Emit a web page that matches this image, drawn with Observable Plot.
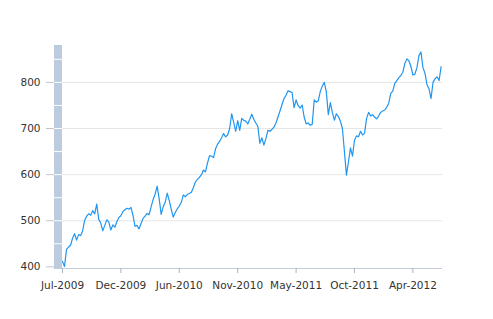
<!DOCTYPE html>
<html><head><meta charset="utf-8">
<script src="https://cdn.jsdelivr.net/npm/d3@7"></script>
<script src="https://cdn.jsdelivr.net/npm/@observablehq/plot@0.6"></script>
<style>body{margin:0;background:#fff}</style>
</head><body><div id="chart"></div>
<script>
// Sampled values (evenly spaced trading-day steps), Jul-2009 .. Jul-2012
const values = [
412,401,438,443,447,462,472,458,470,468,
478,501,510,515,512,522,515,536,503,495,
478,490,502,497,480,491,486,498,507,511,
520,524,527,525,529,512,488,490,482,494,
505,510,516,513,530,546,558,575,548,514,
530,540,560,544,525,508,518,526,532,540,
556,552,557,559,562,572,584,590,594,600,
610,606,625,641,640,637,656,666,672,680,
689,682,686,700,732,714,694,717,696,722,
718,716,710,720,731,720,712,705,668,680,
664,678,696,694,698,703,712,725,738,752,
765,772,782,780,778,745,762,750,744,751,
725,710,712,707,709,762,757,760,780,792,
800,780,730,756,735,718,732,726,716,700,
650,599,628,658,640,675,684,682,694,686,
690,722,735,727,730,725,721,727,735,738,
740,746,755,776,781,798,804,810,815,822,
841,851,847,835,816,818,832,858,866,832,
820,795,786,765,800,808,812,804,834
];
const tickIndex = [0, 29, 58, 87, 116, 145, 174];
const tickLabels = ["Jul-2009","Dec-2009","Jun-2010","Nov-2010","May-2011","Oct-2011","Apr-2012"];
const yTicks = [400, 500, 600, 700, 800];
const barLines = [450, 500, 550, 600, 650, 700, 750, 800, 850];

const data = values.map((v, i) => ({i, v}));
const xDom = [-3.97, 188.7];
const yDom = [396.5, 880];

const chart = Plot.plot({
  width: 493, height: 319,
  marginLeft: 54, marginRight: 51, marginTop: 45, marginBottom: 51,
  style: {fontFamily: "DejaVu Sans, Verdana, sans-serif", fontSize: "10.5px", color: "#333", background: "#fff"},
  x: {domain: xDom},
  y: {domain: yDom},
  marks: [
    Plot.ruleY(yTicks.slice(1), {x1: () => 0, x2: () => xDom[1], stroke: "#e6e6e6"}),
    Plot.rect([0], {x1: () => xDom[0], x2: () => 0, y1: () => yDom[0], y2: () => yDom[1], fill: "#bccbdd"}),
    Plot.ruleY(barLines, {x1: () => xDom[0], x2: () => 0, stroke: "#ffffff"}),
    Plot.ruleY([yDom[0]], {stroke: "#c2cdda"}),
    Plot.axisY({ticks: yTicks, tickSize: 8, tickPadding: 6, stroke: "#c4c4c4", fill: "#333", label: null}),
    Plot.axisX({ticks: tickIndex, tickFormat: d => tickLabels[tickIndex.indexOf(d)], tickSize: 5, tickPadding: 8.5, stroke: "#a9b4c2", fill: "#333", label: null}),
    Plot.line(data, {x: "i", y: "v", stroke: "#2196f0", strokeWidth: 1.2})
  ]
});
document.getElementById("chart").appendChild(chart);
</script>
</body></html>
